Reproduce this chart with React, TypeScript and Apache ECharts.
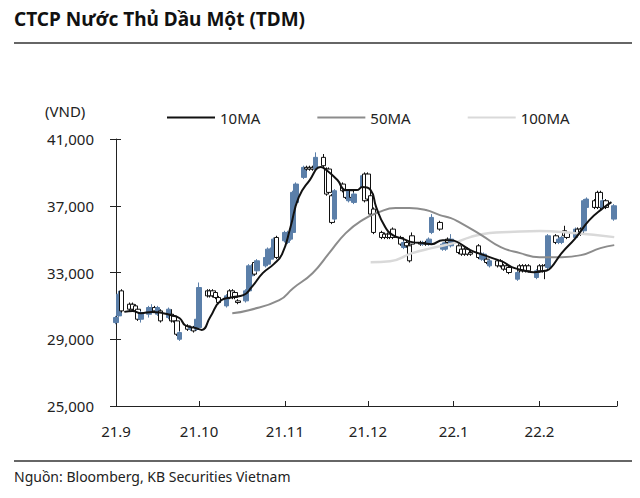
import React, { useEffect, useRef } from 'react';
import * as echarts from 'echarts';

const TITLE = 'CTCP Nước Thủ Dầu Một (TDM)';
const SOURCE = 'Nguồn: Bloomberg, KB Securities Vietnam';
const UNIT = '(VND)';
const Y_MIN = 25000;
const Y_MAX = 41000;
const Y_STEP = 4000;
const AXIS_START = '2021-09-01';
const AXIS_END = '2022-03-01';
const seriesNames = ['10MA', '50MA', '100MA'];

// [day, open, close, low, high]
const sep21 = [
  [1, 30000, 30300, 29900, 30400], [2, 30400, 31700, 30300, 31900], [3, 31900, 30700, 30600, 32000],
  [6, 31100, 30800, 30700, 31200], [7, 31100, 30800, 30700, 31200], [8, 31000, 30700, 30600, 31100],
  [9, 30800, 30200, 30100, 30900], [10, 30200, 30600, 30000, 30700], [13, 30500, 30900, 30300, 31000],
  [14, 30600, 30900, 30500, 31100], [15, 30900, 30700, 30600, 31000], [16, 30500, 30900, 30400, 31000],
  [17, 30700, 30100, 30000, 30800], [20, 30300, 30800, 30200, 30900], [21, 30500, 30100, 30000, 30800],
  [22, 30400, 30100, 30000, 30500], [23, 30100, 29300, 29200, 30200], [24, 29000, 29400, 28900, 29500],
  [27, 29800, 29600, 29500, 29900], [28, 29600, 29700, 29500, 29800], [29, 29700, 29500, 29400, 29800],
  [30, 29600, 30200, 29500, 30300],
];
const oct21 = [
  [1, 29700, 32100, 29600, 32400], [4, 31900, 31600, 31500, 32000], [5, 31900, 31600, 31500, 32000],
  [6, 31900, 31600, 31500, 32000], [7, 31800, 31500, 31400, 31900], [8, 31500, 31200, 31100, 31600],
  [11, 31000, 31600, 30900, 31700], [12, 31900, 31500, 31400, 32000], [13, 31900, 31500, 31400, 32000],
  [14, 31800, 31500, 31400, 31900], [15, 31300, 31200, 31100, 31400], [18, 31300, 31900, 31200, 32000],
  [19, 31900, 33400, 31800, 33500], [20, 32800, 33300, 32600, 33500], [21, 33600, 32900, 32800, 33700],
  [22, 33100, 33700, 33000, 33800], [25, 33400, 33900, 33300, 34000], [26, 33500, 34400, 33400, 34500],
  [27, 33800, 34400, 33700, 34500], [28, 34000, 35000, 33900, 35100], [29, 35100, 33900, 33800, 35200],
];
const nov21 = [
  [1, 34900, 35400, 34800, 35500], [2, 34800, 35400, 34700, 35500], [3, 35000, 35400, 34900, 35500],
  [4, 35400, 37800, 35300, 37900], [5, 37200, 38300, 37100, 38400], [8, 38700, 39300, 38600, 39400],
  [9, 39300, 39200, 39100, 39400], [10, 39300, 39200, 39100, 39400], [11, 39300, 39200, 39100, 39400],
  [12, 39200, 39900, 39100, 40200], [15, 39900, 39400, 39300, 40100], [16, 39200, 37700, 37600, 39300],
  [17, 39200, 37800, 37700, 39300], [18, 37600, 36000, 35900, 37700], [19, 36200, 37900, 36100, 38000],
  [22, 38300, 37900, 37800, 38400], [23, 37900, 37500, 37400, 38000], [24, 37300, 37900, 37200, 38000],
  [25, 37900, 37500, 37400, 38000], [26, 37200, 37700, 37100, 37800], [29, 38100, 38800, 38000, 38900],
  [30, 38900, 37300, 37200, 39000],
];
const dec21 = [
  [1, 38900, 37400, 37300, 39000], [2, 37600, 36500, 36400, 37700], [3, 36800, 35400, 35300, 36900],
  [6, 35400, 35100, 35000, 35500], [7, 35300, 35100, 35000, 35400], [8, 35300, 35100, 35000, 35400],
  [9, 35300, 35100, 35000, 35400], [10, 35600, 35100, 35000, 35700], [13, 35100, 34700, 34600, 35200],
  [14, 34500, 34800, 34400, 34900], [15, 34800, 34600, 34500, 34900], [16, 34600, 33700, 33600, 34700],
  [17, 35200, 34700, 34600, 35400], [20, 34800, 34700, 34600, 34900], [21, 34700, 34800, 34600, 34900],
  [22, 34800, 34700, 34600, 34900], [23, 34700, 35000, 34600, 35100], [24, 35400, 36300, 35300, 36500],
  [27, 36000, 35600, 35500, 36100], [28, 34400, 34700, 34300, 34800], [29, 34400, 34800, 34300, 34900],
  [30, 35000, 34800, 34700, 35100], [31, 34600, 35000, 34500, 35300],
];
const jan22 = [
  [3, 34600, 34200, 34100, 34700], [4, 34400, 34100, 34000, 34500], [5, 34400, 34100, 34000, 34500],
  [6, 34400, 34100, 34000, 34500], [7, 34200, 34100, 34000, 34300], [10, 34600, 33900, 33800, 34700],
  [11, 33800, 34100, 33700, 34200], [12, 33800, 34100, 33700, 34200], [13, 33800, 33600, 33500, 33900],
  [14, 33400, 33700, 33300, 33800], [17, 33700, 33400, 33300, 33800], [18, 33700, 33400, 33300, 33800],
  [19, 33400, 33200, 33100, 33500], [20, 33400, 33200, 33100, 33500], [21, 33300, 33000, 32900, 33400],
  [24, 32600, 33000, 32500, 33100], [25, 33400, 33100, 33000, 33500], [26, 33400, 33100, 33000, 33500],
  [27, 33400, 33100, 33000, 33500], [28, 33400, 33100, 33000, 33500], [31, 32700, 33100, 32600, 33200],
];
const feb22 = [
  [1, 33400, 33100, 33000, 33500], [2, 33400, 33100, 33000, 33500], [3, 33400, 33100, 32600, 33500],
  [4, 33300, 35200, 33200, 35300], [7, 35200, 34800, 34700, 35300], [8, 34800, 35000, 34700, 35100],
  [9, 34800, 35100, 34700, 35200], [10, 35500, 35200, 35100, 35800], [11, 35400, 35100, 35000, 35500],
  [14, 35100, 35600, 35000, 35700], [15, 35600, 35300, 35200, 35700], [16, 35600, 35300, 35200, 35700],
  [17, 35500, 37300, 35400, 37400], [18, 36900, 37400, 36800, 37500], [21, 37300, 36900, 36800, 37400],
  [22, 37800, 36900, 36800, 37900], [23, 37800, 36900, 36800, 37900], [24, 36900, 37300, 36800, 37400],
  [25, 37300, 36900, 36800, 37400], [28, 36200, 37000, 36100, 37100],
];

const ma10 = [
  ['2021-09-04', 30640], ['2021-09-07', 30700], ['2021-09-10', 30560], ['2021-09-14', 30640],
  ['2021-09-18', 30560], ['2021-09-21', 30440], ['2021-09-24', 30260], ['2021-09-26', 29840],
  ['2021-09-30', 29660], ['2021-10-02', 29560], ['2021-10-05', 30320], ['2021-10-09', 31340],
  ['2021-10-13', 31520], ['2021-10-17', 31640], ['2021-10-20', 32120], ['2021-10-24', 32960],
  ['2021-10-28', 33500], ['2021-10-31', 34100], ['2021-11-03', 35700], ['2021-11-06', 37500],
  ['2021-11-10', 38540], ['2021-11-14', 39320], ['2021-11-16', 39140], ['2021-11-20', 38540],
  ['2021-11-23', 37940], ['2021-11-27', 37940], ['2021-11-29', 38120], ['2021-12-02', 37940],
  ['2021-12-04', 36920], ['2021-12-07', 35800], ['2021-12-10', 35240], ['2021-12-14', 35000],
  ['2021-12-17', 34820], ['2021-12-21', 34760], ['2021-12-24', 34700], ['2021-12-28', 34940],
  ['2021-12-31', 34940], ['2022-01-03', 34760], ['2022-01-07', 34340], ['2022-01-12', 34040],
  ['2022-01-15', 33860], ['2022-01-19', 33620], ['2022-01-22', 33320], ['2022-01-26', 33140],
  ['2022-01-30', 33020], ['2022-02-03', 33100], ['2022-02-05', 33260], ['2022-02-09', 34160],
  ['2022-02-14', 35060], ['2022-02-19', 36140], ['2022-02-24', 36860], ['2022-02-27', 37220],
];
const ma50 = [
  ['2021-10-13', 30560], ['2021-10-19', 30740], ['2021-10-30', 31340], ['2021-11-04', 32060],
  ['2021-11-11', 32960], ['2021-11-17', 34160], ['2021-11-23', 35360], ['2021-11-29', 36140],
  ['2021-12-05', 36620], ['2021-12-11', 36860], ['2021-12-16', 36860], ['2021-12-22', 36740],
  ['2021-12-27', 36440], ['2021-12-31', 36260], ['2022-01-03', 36020], ['2022-01-11', 35240],
  ['2022-01-18', 34520], ['2022-01-25', 34160], ['2022-02-01', 33920], ['2022-02-09', 33920],
  ['2022-02-16', 34040], ['2022-02-23', 34460], ['2022-02-28', 34640],
];
const ma100 = [
  ['2021-12-02', 33620], ['2021-12-09', 33680], ['2021-12-17', 34160], ['2021-12-24', 34460],
  ['2022-01-01', 34760], ['2022-01-07', 35120], ['2022-01-14', 35360], ['2022-01-21', 35420],
  ['2022-02-01', 35480], ['2022-02-13', 35360], ['2022-02-28', 35120],
];

const pad = (n: number) => (n < 10 ? '0' + n : '' + n);
const toRows = (y: number, m: number, rows: number[][]) =>
  rows.map(([d, o, c, l, h]) => [`${y}-${pad(m)}-${pad(d)}`, o, c, l, h]);
const candleRows = [
  ...toRows(2021, 9, sep21), ...toRows(2021, 10, oct21), ...toRows(2021, 11, nov21),
  ...toRows(2021, 12, dec21), ...toRows(2022, 1, jan22), ...toRows(2022, 2, feb22),
];

function buildDays(start: string, end: string) {
  const out: string[] = [];
  const d = new Date(start + 'T00:00:00Z');
  const e = new Date(end + 'T00:00:00Z');
  while (d.getTime() <= e.getTime()) {
    out.push(`${d.getUTCFullYear()}-${pad(d.getUTCMonth() + 1)}-${pad(d.getUTCDate())}`);
    d.setUTCDate(d.getUTCDate() + 1);
  }
  return out;
}
const days = buildDays(AXIS_START, AXIS_END);

const FONT = '"Noto Sans", sans-serif';
const BLUE = '#5b7fa9';

export default function App() {
  const ref = useRef<HTMLDivElement>(null);
  useEffect(() => {
    if (!ref.current) return;
    const chart = echarts.init(ref.current, null, { renderer: 'svg' });
    const isMonthStart = (_i: number, v: string) => v.endsWith('-01');
    chart.setOption({
      animation: false,
      backgroundColor: '#ffffff',
      textStyle: { fontFamily: FONT },
      grid: { left: 116, right: 23, top: 139, bottom: 92 },
      legend: {
        data: seriesNames,
        left: 162,
        top: 105,
        icon: 'rect',
        itemWidth: 48,
        itemHeight: 2,
        itemGap: 57,
        textStyle: { fontSize: 15, color: '#222', fontFamily: FONT },
      },
      graphic: [
        { type: 'text', left: 14, top: 9, style: { text: TITLE, font: `bold 19px ${FONT}`, fill: '#111' } },
        { type: 'line', shape: { x1: 14, y1: 43, x2: 632, y2: 43 }, style: { stroke: '#333', lineWidth: 1.5 } },
        { type: 'text', left: 45, top: 103, style: { text: UNIT, font: `15px ${FONT}`, fill: '#222' } },
        { type: 'line', shape: { x1: 14, y1: 461, x2: 632, y2: 461 }, style: { stroke: '#333', lineWidth: 1.5 } },
        { type: 'text', left: 14, top: 469, style: { text: SOURCE, font: `14px ${FONT}`, fill: '#222' } },
      ],
      xAxis: {
        type: 'category',
        data: days,
        boundaryGap: false,
        axisLine: { lineStyle: { color: '#222', width: 1 } },
        axisTick: { inside: true, length: 5, interval: isMonthStart, lineStyle: { color: '#222' } },
        axisLabel: {
          interval: isMonthStart,
          margin: 17,
          fontSize: 15,
          color: '#222',
          fontFamily: FONT,
          formatter: (v: string) => {
            if (v === AXIS_END) return '';
            const [y, m] = v.split('-');
            return `${y.slice(2)}.${parseInt(m, 10)}`;
          },
        },
        splitLine: { show: false },
      },
      yAxis: [
        {
          type: 'value',
          min: Y_MIN,
          max: Y_MAX,
          interval: Y_STEP,
          axisLine: { show: true, lineStyle: { color: '#222', width: 1 } },
          axisTick: { show: true, inside: false, length: 6, lineStyle: { color: '#222' } },
          axisLabel: {
            margin: 22,
            fontSize: 15,
            color: '#222',
            fontFamily: FONT,
            formatter: (v: number) => v.toLocaleString('en-US'),
          },
          splitLine: { show: false },
        },
        {
          type: 'value',
          min: Y_MIN,
          max: Y_MAX,
          interval: Y_STEP,
          position: 'left',
          axisLine: { show: false },
          axisTick: { show: true, inside: true, length: 5, lineStyle: { color: '#222' } },
          axisLabel: { show: false },
          splitLine: { show: false },
        },
      ],
      series: [
        {
          type: 'candlestick',
          data: candleRows,
          encode: { x: 0, y: [1, 2, 3, 4] },
          barWidth: 5,
          itemStyle: {
            color: BLUE,
            color0: '#ffffff',
            borderColor: BLUE,
            borderColor0: '#111111',
            borderWidth: 1,
          },
          z: 2,
        },
        {
          name: '10MA', type: 'line', data: ma10, smooth: true, showSymbol: false, symbol: 'none',
          lineStyle: { color: '#111111', width: 2 }, itemStyle: { color: '#111111' }, z: 5,
        },
        {
          name: '50MA', type: 'line', data: ma50, smooth: true, showSymbol: false, symbol: 'none',
          lineStyle: { color: '#8c8c8c', width: 2 }, itemStyle: { color: '#8c8c8c' }, z: 4,
        },
        {
          name: '100MA', type: 'line', data: ma100, smooth: true, showSymbol: false, symbol: 'none',
          lineStyle: { color: '#d9d9d9', width: 2.5 }, itemStyle: { color: '#d9d9d9' }, z: 3,
        },
      ],
    });
    return () => chart.dispose();
  }, []);
  return (
    <div
      ref={ref}
      style={{ position: 'absolute', left: 0, top: 0, width: 640, height: 498, background: '#fff' }}
    />
  );
}
